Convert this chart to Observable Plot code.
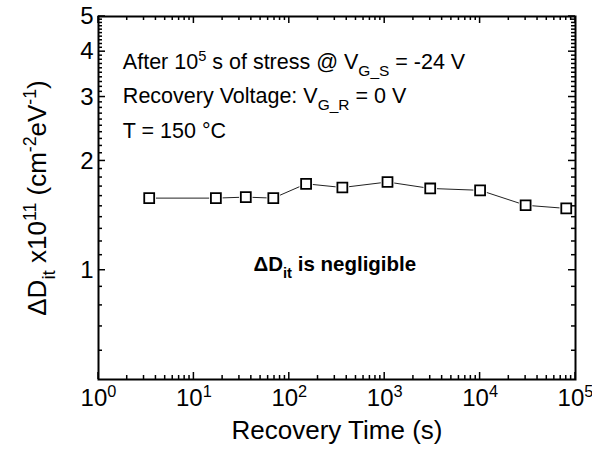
<!DOCTYPE html>
<html><head><meta charset="utf-8">
<script src="https://cdn.jsdelivr.net/npm/d3@7"></script>
<script src="https://cdn.jsdelivr.net/npm/@observablehq/plot@0.6"></script>
<style>body{margin:0;background:#fff} svg{display:block}</style>
</head><body><div id="chart"></div>
<script>
// Recovery time (s) and ΔDit (x1e11 cm^-2 eV^-1)
const time = [3.4, 17, 35, 68, 150, 360, 1070, 3000, 10000, 30000, 80000];
const dit  = [1.58, 1.58, 1.59, 1.58, 1.73, 1.69, 1.75, 1.68, 1.66, 1.51, 1.48];
const xTicks = [1, 10, 100, 1000, 10000, 100000];
const xTickExp = ["0", "1", "2", "3", "4", "5"];
const yTicks = [1, 2, 3, 4, 5];
const xMinor = [];
for (let d = 0; d < 5; d++) for (let k = 2; k <= 9; k++) xMinor.push(k * 10 ** d);
const yMinor = [];
for (let i = 6; i < 50; i++) if (i % 10) yMinor.push(i / 10);

const font = "'Liberation Sans', Arial, sans-serif";
const data = time.map((t, i) => ({t, v: dit[i]}));

const notes = [
  {t: 1.8, v: 3.75, id: "n1"},
  {t: 1.8, v: 3.02, id: "n2"},
  {t: 1.8, v: 2.42, id: "n3"}
];

const W = 592, H = 449, ML = 98, MR = 17, MT = 16, MB = 70;
const chart = Plot.plot({
  width: W, height: H,
  marginLeft: ML, marginRight: MR, marginTop: MT, marginBottom: MB,
  style: {fontFamily: font, background: "#fff", color: "#000"},
  x: {type: "log", domain: [1, 1e5], axis: null},
  y: {type: "log", domain: [0.5, 5], axis: null},
  marks: [
    Plot.line(data, {x: "t", y: "v", stroke: "#222", strokeWidth: 1}),
    Plot.dot(data, {x: "t", y: "v", symbol: "square", r: 7.6, fill: "#fff", stroke: "none"}),
    Plot.dot(data, {x: "t", y: "v", symbol: "square", r: 5.6, fill: "#fff", stroke: "#000", strokeWidth: 1.8}),
    Plot.axisX(xTicks, {anchor: "bottom", tickSize: 0, tickPadding: 9, label: null, fontSize: 24,
      tickFormat: d => "10^" + xTickExp[xTicks.indexOf(d)]}),
    Plot.axisY(yTicks, {anchor: "left", tickSize: 0, tickPadding: 5, label: null, fontSize: 24,
      tickFormat: d => String(d)}),
    Plot.text(notes, {x: "t", y: "v", text: "id", textAnchor: "start", fontSize: 21.5}),
    Plot.text([{t: 300, v: 1.04}], {x: "t", y: "v", text: () => "neg", fontSize: 20.5, fontWeight: "bold"}),
    Plot.text(["Recovery Time (s)"], {frameAnchor: "bottom", textAnchor: "middle", lineAnchor: "middle", dy: 51, fontSize: 26, text: d => d}),
    Plot.text(["ylab"], {frameAnchor: "left", textAnchor: "middle", lineAnchor: "middle", rotate: -90, dx: -61, fontSize: 26, text: d => d}),
    Plot.frame({stroke: "#000", strokeWidth: 2})
  ]
});
document.getElementById("chart").append(chart);

const svg = d3.select(chart);

// inward ticks on all four sides, positioned by the plot's own scales
const sx = chart.scale("x"), sy = chart.scale("y");
const x0 = ML, x1 = W - MR, y0 = MT, y1 = H - MB;
const tg = svg.append("g").attr("stroke", "#000").attr("stroke-width", 1.5);
const xt = [...xTicks.map(v => [v, 7]), ...xMinor.map(v => [v, 4])];
const yt = [...yTicks.map(v => [v, 7]), ...yMinor.map(v => [v, 4])];
for (const [v, len] of xt) {
  const px = sx.apply(v);
  tg.append("line").attr("x1", px).attr("x2", px).attr("y1", y1).attr("y2", y1 - len);
  tg.append("line").attr("x1", px).attr("x2", px).attr("y1", y0).attr("y2", y0 + len);
}
for (const [v, len] of yt) {
  const py = sy.apply(v);
  tg.append("line").attr("y1", py).attr("y2", py).attr("x1", x0).attr("x2", x0 + len);
  tg.append("line").attr("y1", py).attr("y2", py).attr("x1", x1).attr("x2", x1 - len);
}

function rich(sel, parts) {
  sel.text(null);
  for (const p of parts) {
    const ts = sel.append("tspan").text(p.t);
    if (p.sup) ts.attr("font-size", "0.68em").attr("baseline-shift", "55%");
    if (p.sub) ts.attr("font-size", "0.72em").attr("baseline-shift", "-45%");
  }
}
svg.selectAll("text").each(function() {
  const el = d3.select(this);
  const s = el.text();
  if (s.startsWith("10^")) rich(el, [{t: "10"}, {t: s.slice(3), sup: true}]);
  else if (s === "n1") rich(el, [{t: "After 10"}, {t: "5", sup: true}, {t: " s of stress @ V"}, {t: "G_S", sub: true}, {t: " = -24 V"}]);
  else if (s === "n2") rich(el, [{t: "Recovery Voltage: V"}, {t: "G_R", sub: true}, {t: " = 0 V"}]);
  else if (s === "n3") rich(el, [{t: "T = 150 °C"}]);
  else if (s === "neg") rich(el, [{t: "ΔD"}, {t: "it", sub: true}, {t: " is negligible"}]);
  else if (s === "ylab") rich(el, [{t: "ΔD"}, {t: "it", sub: true}, {t: " x10"}, {t: "11", sup: true}, {t: " (cm"}, {t: "-2", sup: true}, {t: "eV"}, {t: "-1", sup: true}, {t: ")"}]);
});
</script>
</body></html>
